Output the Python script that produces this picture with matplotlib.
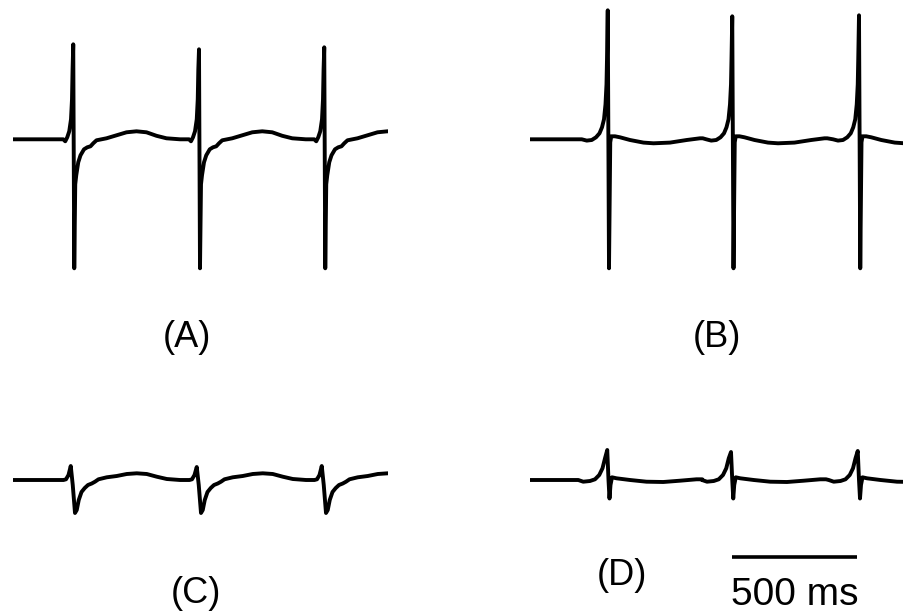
import numpy as np
import matplotlib
matplotlib.use("Agg")
import matplotlib.pyplot as plt

plt.rcParams['font.family'] = ['Liberation Sans', 'DejaVu Sans']

W, H = 904, 613

# one beat of each recording: time from the spike (ms) and potential (mV)
beat_a_t = [-40, -32, -24, -16, -9, -5, -2.7, 0, 4, 8, 12, 20, 29, 43, 56, 69, 80, 93,
            133, 173, 213, 253, 293, 333, 373, 427]
beat_a_v = [0, -0.02, 0.02, 0.08, 0.2, 0.4, 0.7, 0.95, -1.29, -0.45, -0.36, -0.23, -0.16,
            -0.10, -0.08, -0.07, -0.04, -0.01, 0.01, 0.04, 0.07, 0.08, 0.07, 0.035, 0.01, 0]

beat_b_t = [-104, -84, -64, -47, -33, -23, -15, -9, -5, -3, 0, 5, 10, 14, 29, 49, 89,
            143, 183, 249, 316, 369, 380]
beat_b_v = [0, -0.013, -0.007, 0.02, 0.06, 0.12, 0.2, 0.35, 0.55, 0.8, 1.29, -1.29,
            -0.03, 0.03, 0.03, 0.02, -0.007, -0.033, -0.04, -0.033, -0.007, 0.01, 0.01]

beat_c_t = [-29, -19, -9, 0, 8, 17, 24, 32, 43, 56, 69, 84, 97, 111, 144, 184, 224, 264,
            304, 344, 384, 437]
beat_c_v = [0, 0.007, 0.05, 0.14, -0.05, -0.33, -0.30, -0.2, -0.12, -0.08, -0.05, -0.035,
            -0.017, 0.007, 0.027, 0.04, 0.06, 0.067, 0.06, 0.033, 0.01, 0]

beat_d_t = [-116, -96, -69, -49, -32, -19, -9, 0, 5, 9, 13, 19, 37, 91, 157, 224, 291,
            357, 380]
beat_d_v = [0, -0.017, -0.01, 0.007, 0.05, 0.117, 0.217, 0.30, 0.0, -0.185, -0.05, 0.027,
            0.017, 0, -0.017, -0.02, -0.007, 0.007, 0.007]

# spike times (ms) and spike peaks (mV) for the three beats in each trace
spikes_a = [241, 744, 1245]
peaks_a = [0.95, 0.90, 0.92]
spikes_b = [311, 809, 1316]
peaks_b = [1.29, 1.23, 1.24]
spikes_c = [231, 735, 1235]
peaks_c = [0.14, 0.13, 0.14]
spikes_d = [309, 804, 1311]
peaks_d = [0.30, 0.28, 0.29]

labels = ['(A)', '(B)', '(C)', '(D)']
scale_ms = 500


def trace(bt, bv, spikes, peaks):
    t = [0.0]
    v = [0.0]
    ipk = int(np.argmax(bv))
    for s, p in zip(spikes, peaks):
        vv = list(bv)
        vv[ipk] = p
        t += [s + x for x in bt]
        v += vv
    return np.array(t), np.array(v)


def px_axes(left, base, half):
    # axes 375 px wide for 1500 ms, 100 px per mV, zero at pixel row `base`
    hpx = half * 100
    ax = fig.add_axes([left / W, (H - base - hpx) / H, 375 / W, 2 * hpx / H])
    ax.set_xlim(0, 1500)
    ax.set_ylim(-half, half)
    ax.axis('off')
    return ax


fig = plt.figure(figsize=(W / 100, H / 100), dpi=100)

ax_a = px_axes(13, 139.3, 1.35)
ax_b = px_axes(530, 139.3, 1.35)
ax_c = px_axes(13, 480, 0.6)
ax_d = px_axes(530, 480, 0.6)

for ax, bt, bv, sp, pk in [(ax_a, beat_a_t, beat_a_v, spikes_a, peaks_a),
                           (ax_b, beat_b_t, beat_b_v, spikes_b, peaks_b),
                           (ax_c, beat_c_t, beat_c_v, spikes_c, peaks_c),
                           (ax_d, beat_d_t, beat_d_v, spikes_d, peaks_d)]:
    t, v = trace(bt, bv, sp, pk)
    ax.plot(t, v, color='black', lw=2.8, solid_joinstyle='round')

# time scale bar under trace D
t0 = 808
ax_d.plot([t0, t0 + scale_ms], [-0.77, -0.77], color='black', lw=2.6,
          solid_capstyle='butt', clip_on=False)

fs = 26
fig.text(187 / W, 1 - 347 / H, labels[0], ha='center', va='baseline', fontsize=fs)
fig.text(717 / W, 1 - 347 / H, labels[1], ha='center', va='baseline', fontsize=fs)
fig.text(196 / W, 1 - 603 / H, labels[2], ha='center', va='baseline', fontsize=fs)
fig.text(622 / W, 1 - 585 / H, labels[3], ha='center', va='baseline', fontsize=fs)
fig.text(795 / W, 1 - 605 / H, f'{scale_ms} ms', ha='center', va='baseline', fontsize=28)

fig.savefig('out.png', dpi=100)
